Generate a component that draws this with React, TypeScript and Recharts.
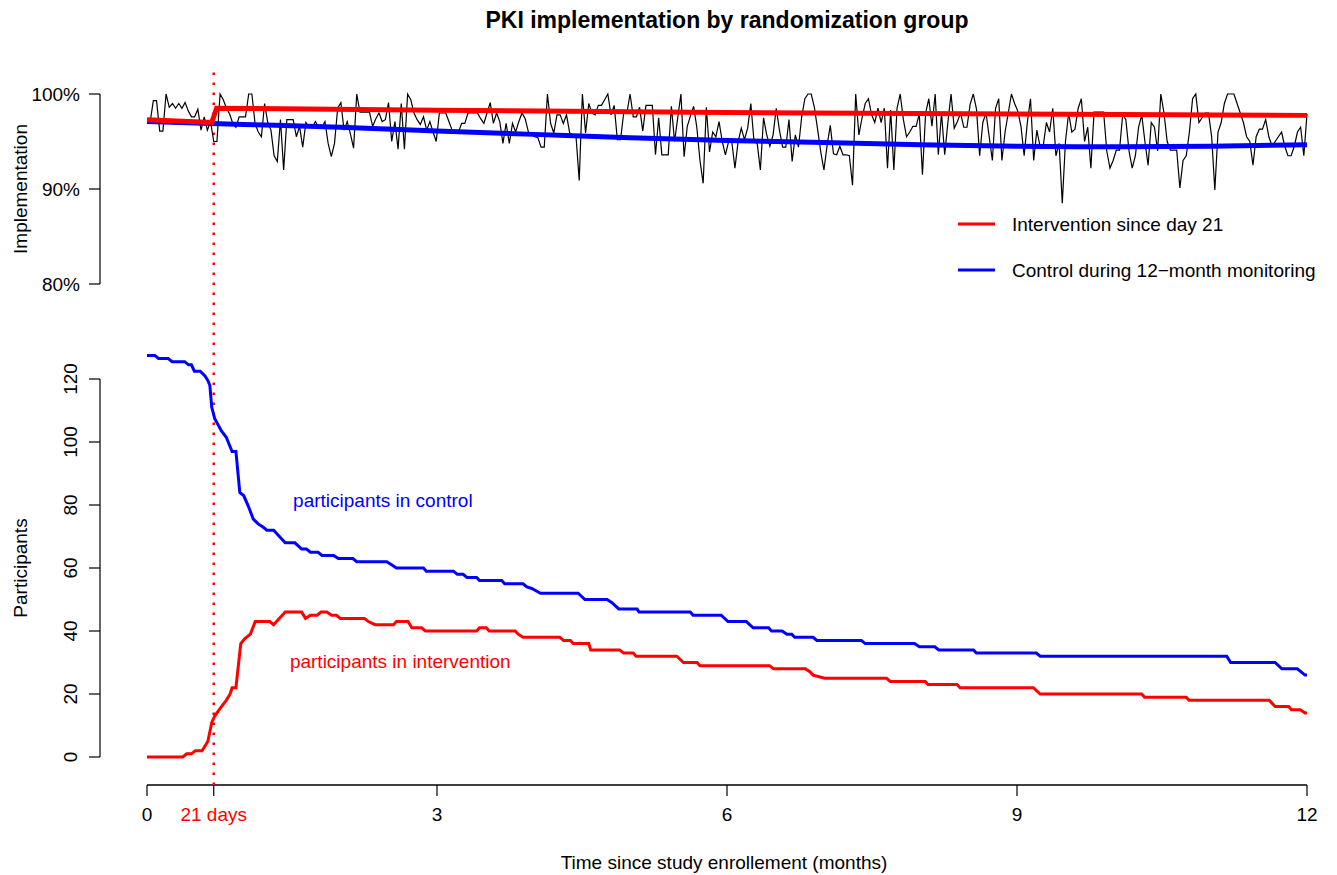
import React from 'react';
import { LineChart, Line, XAxis, YAxis, ReferenceLine, ReferenceDot } from 'recharts';

// ---------------- data ----------------
const DAYS_PER_MONTH = 365 / 12;
const DAY21_MONTH = 21 / DAYS_PER_MONTH;

// daily PKI implementation (%), day 0 .. 365
const implementationDaily: number[] = [
  97.1, 97.1, 99.3, 99.3, 96.1, 96.1, 100, 98.6, 99.0, 98.5,
  99.0, 98.5, 99.1, 98.2, 97.6, 97.6, 98.4, 96.2, 97.6, 96.2,
  97.1, 95.0, 95.0, 100, 99.4, 98.5, 97.9, 96.9, 96.5, 97.6,
  97.6, 97.6, 100, 100, 96.9, 96.0, 95.5, 99.0, 97.0, 96.2,
  93.5, 92.9, 97.3, 92.0, 97.3, 97.3, 97.3, 95.5, 96.6, 94.4,
  97.0, 96.5, 96.5, 97.1, 96.5, 96.5, 97.1, 94.8,
  93.4, 94.8, 98.5, 99.1, 96.2, 97.1, 95.8, 94.3, 100, 98.1,
  98.1, 98.1, 98.1, 96.6, 97.4, 98.0, 97.1, 97.3, 99.1, 95.0,
  97.1, 94.2, 99.0, 94.2, 100, 99.4, 98.0, 97.3, 96.8, 97.6,
  96.2, 97.1, 96.0, 95.0, 98.0, 98.0, 98.0, 97.1, 96.2, 96.1,
  96.0, 96.9, 96.9, 98.0, 98.0, 98.0, 98.0, 97.4, 96.9, 98.0,
  99.1, 96.9, 98.0, 97.1, 94.8, 96.9, 94.8, 96.9, 96.0, 97.1,
  98.0, 97.4, 96.0, 95.7, 95.5, 95.4, 94.4, 94.4, 100, 96.9,
  95.9, 97.8, 97.8, 96.9, 97.8, 95.9, 95.7, 95.5, 90.9, 100,
  95.9, 99.0, 98.0, 97.8, 98.8, 98.8, 99.4, 100, 97.8, 98.8,
  95.2, 95.2, 98.0, 98.0, 100, 97.6, 97.6, 98.6, 96.1, 98.8,
  98.8, 98.8, 93.6, 97.5, 93.6, 93.6, 93.6, 98.7, 95.0, 97.5,
  100, 93.4, 96.6, 97.7, 98.7, 96.5, 93.0, 90.6, 98.6, 93.9,
  96.0, 95.5, 97.1, 95.0, 93.6, 95.0, 95.0, 92.2, 95.0, 96.4,
  95.2, 96.4, 99.0, 95.0, 94.8, 92.0, 97.5, 95.7, 94.5, 95.7,
  98.5, 96.2, 94.4, 94.4, 97.3, 92.9, 95.7, 94.4, 97.6, 99.5,
  100, 100, 98.6, 96.3, 93.9, 92.0, 94.6, 96.7, 93.7, 93.6,
  94.5, 93.6, 93.6, 93.5, 90.4, 100, 95.7, 97.5, 99.0, 99.5,
  97.8, 97.0, 98.5, 97.0, 98.5, 92.2, 98.3, 92.0, 98.5, 100,
  97.3, 95.5, 96.0, 96.6, 96.6, 97.9, 91.5, 98.0, 99.5, 96.6,
  100, 93.6, 98.0, 93.6, 97.0, 100, 96.4, 97.1, 98.0, 96.5,
  96.5, 98.9, 100, 98.4, 93.5, 97.0, 98.0, 95.5, 93.0, 98.5,
  99.5, 93.0, 96.0, 98.0, 100, 99.0, 98.2, 96.6, 93.5, 97.0,
  99.5, 93.0, 96.2, 94.5, 94.5, 97.0, 96.0, 98.5, 93.5, 94.8,
  88.5, 95.0, 98.0, 96.0, 96.3, 98.5, 99.5, 95.0, 96.5,
  92.2, 98.1, 98.1, 98.1, 98.1, 94.0, 92.2, 93.0, 94.1, 94.1,
  97.8, 97.3, 94.0, 92.2, 93.5, 96.5, 97.8, 95.0, 92.5, 97.0,
  96.5, 94.0, 100, 98.0, 95.0, 94.1, 94.1, 94.1, 90.1, 93.0,
  93.5, 96.0, 99.5, 100, 97.0, 97.5, 98.0, 98.0, 95.5, 89.9,
  96.0, 97.0, 99.0, 100, 100, 100, 99.0, 98.0, 97.0, 95.5,
  95.0, 92.5, 95.5, 96.3, 96.3, 97.3, 95.5, 94.5, 95.0, 95.5,
  96.0, 94.5, 93.5, 93.5, 94.5, 96.0, 96.5, 93.5, 97.9,
];

// smoothed implementation trends: [month, %]
const interventionTrend: [number, number][] = [
  [0, 97.3], [0.67, 97.0], [0.72, 98.5], [3, 98.3], [6, 98.05], [9, 97.9], [12, 97.75],
];
const controlTrend: [number, number][] = [
  [0, 97.1], [1, 96.8], [2, 96.5], [3, 96.1], [4, 95.75], [5, 95.4], [6, 95.1],
  [7, 94.9], [8, 94.65], [9, 94.5], [10, 94.45], [11, 94.5], [12, 94.65],
];

// participants: [month, count]
const controlParticipants: [number, number][] = [
  [0, 127.5], [0.08, 127.5], [0.12, 126.5], [0.22, 126.5], [0.26, 125.5], [0.39, 125.5], [0.43, 124.5],
  [0.46, 124.5], [0.49, 122.5], [0.55, 122.5], [0.6, 121], [0.63, 119.5], [0.65, 118], [0.67, 111],
  [0.7, 107.5], [0.77, 103.5], [0.82, 101.5], [0.86, 98.5], [0.88, 97], [0.92, 97], [0.96, 84],
  [1.0, 83], [1.05, 79.5], [1.1, 75.5], [1.15, 74], [1.2, 73], [1.24, 72], [1.31, 72],
  [1.43, 68], [1.53, 68], [1.6, 66], [1.65, 66], [1.69, 65], [1.77, 65], [1.81, 64],
  [1.93, 64], [1.98, 63], [2.13, 63], [2.17, 62], [2.48, 62], [2.53, 61], [2.58, 60],
  [2.86, 60], [2.89, 59], [3.17, 59], [3.21, 58], [3.27, 58], [3.31, 57], [3.41, 57],
  [3.44, 56], [3.67, 56], [3.7, 55], [3.89, 55], [3.93, 54], [3.98, 53.5], [4.01, 53],
  [4.07, 52], [4.46, 52], [4.53, 50], [4.76, 50], [4.81, 49], [4.88, 47], [5.07, 47],
  [5.09, 46], [5.62, 46], [5.65, 45], [5.94, 45], [6.01, 43], [6.2, 43], [6.27, 41],
  [6.43, 41], [6.46, 40], [6.57, 40], [6.62, 39], [6.67, 39], [6.7, 38], [6.89, 38],
  [6.93, 37], [7.39, 37], [7.43, 36], [7.94, 36], [7.99, 35], [8.15, 35], [8.19, 34],
  [8.55, 34], [8.58, 33], [9.2, 33], [9.24, 32], [11.17, 32], [11.21, 30], [11.67, 30],
  [11.74, 28], [11.9, 28], [11.98, 26], [12, 26],
];
const interventionParticipants: [number, number][] = [
  [0, 0], [0.37, 0], [0.41, 1], [0.46, 1], [0.5, 2], [0.57, 2], [0.63, 5], [0.67, 11],
  [0.7, 13], [0.77, 16], [0.82, 18], [0.86, 20], [0.88, 22], [0.92, 22], [0.97, 36],
  [1.01, 37.5], [1.07, 39], [1.12, 43], [1.27, 43], [1.31, 42], [1.34, 43], [1.43, 46],
  [1.6, 46], [1.64, 44], [1.69, 45], [1.76, 45], [1.8, 46], [1.86, 46], [1.91, 45],
  [1.96, 45], [2.0, 44], [2.25, 44], [2.29, 43], [2.36, 42], [2.55, 42], [2.58, 43],
  [2.7, 43], [2.74, 41], [2.84, 41], [2.88, 40], [3.41, 40], [3.44, 41], [3.51, 41],
  [3.54, 40], [3.81, 40], [3.84, 39], [3.89, 38], [4.27, 38], [4.31, 37], [4.38, 37],
  [4.41, 36], [4.57, 36], [4.59, 34], [4.89, 34], [4.93, 33], [5.03, 33], [5.06, 32],
  [5.48, 32], [5.55, 30], [5.69, 30], [5.72, 29], [6.44, 29], [6.48, 28], [6.81, 28],
  [6.86, 27], [6.89, 26], [7.01, 25], [7.65, 25], [7.69, 24], [8.05, 24], [8.08, 23],
  [8.38, 23], [8.41, 22], [9.17, 22], [9.24, 20], [10.29, 20], [10.32, 19], [10.75, 19],
  [10.78, 18], [11.61, 18], [11.67, 16], [11.81, 16], [11.84, 15], [11.93, 15], [11.98, 14],
  [12, 14],
];

const xTickValues = [0, DAY21_MONTH, 3, 6, 9, 12];
const xTickLabels = ['0', '21 days', '3', '6', '9', '12'];
const implementationTicks = [80, 90, 100];
const participantTicks = [0, 20, 40, 60, 80, 100, 120];

const legendLabels = ['Intervention since day 21', 'Control during 12\u2212month monitoring'];

// ---------------- layout / style ----------------
const FONT = '"Liberation Sans", Arial, Helvetica, sans-serif';
const RED = '#FF0000';
const BLUE = '#0000FF';
const W = 1337;
const H = 875;
const PLOT_LEFT = 100;
const PLOT_RIGHT = 1330;
const X0_PX = 147;
const X12_PX = 1307;
const PX_PER_MONTH = (X12_PX - X0_PX) / 12;
const X_DOMAIN: [number, number] = [
  (PLOT_LEFT - X0_PX) / PX_PER_MONTH,
  (PLOT_RIGHT - X0_PX) / PX_PER_MONTH,
];
const TOP_H = 300;
const TOP_Y100 = 94;
const TOP_Y80 = 284;
const BOT_TOP = 72;
const BOT_BOTTOM = 785;
const Y0_PX = 757;
const Y120_PX = 379;
const PX_PER_COUNT = (Y0_PX - Y120_PX) / 120;
const PART_DOMAIN: [number, number] = [
  (Y0_PX - BOT_BOTTOM) / PX_PER_COUNT,
  (Y0_PX - BOT_TOP) / PX_PER_COUNT,
];

const toXY = (pts: [number, number][]) => pts.map(([x, y]) => ({ x, y }));
const implData = implementationDaily.map((v, d) => ({ x: d / DAYS_PER_MONTH, y: v }));

const XTick = (props: any) => {
  const { x, y, payload, index } = props;
  const i = xTickValues.indexOf(payload.value);
  const idx = i >= 0 ? i : index;
  const isDay21 = idx === 1;
  return (
    <text x={x} y={y} dy="0.71em" textAnchor="middle" fontSize={19} fontFamily={FONT}
      fill={isDay21 ? RED : '#000'}>
      {xTickLabels[idx]}
    </text>
  );
};

const RotTick = (props: any) => {
  const { x, y, payload } = props;
  return (
    <text x={x} y={y} transform={`rotate(-90 ${x} ${y})`} textAnchor="middle" fontSize={19}
      fontFamily={FONT} fill="#000">
      {payload.value}
    </text>
  );
};

export default function App() {
  return (
    <div style={{ position: 'absolute', left: 0, top: 0, width: W, height: H, background: '#fff' }}>
      {/* bottom panel: participants + shared x axis */}
      <div style={{ position: 'absolute', left: 0, top: 0 }}>
        <LineChart width={W} height={H} margin={{ top: BOT_TOP, right: W - PLOT_RIGHT, bottom: 0, left: 0 }}>
          <XAxis type="number" dataKey="x" domain={X_DOMAIN} allowDataOverflow ticks={xTickValues}
            interval={0} height={H - BOT_BOTTOM} tickSize={11} tickMargin={12} axisLine={false}
            tickLine={{ stroke: '#000', strokeWidth: 1.2 }} tick={XTick} />
          <YAxis type="number" dataKey="y" domain={PART_DOMAIN} allowDataOverflow ticks={participantTicks}
            interval={0} width={PLOT_LEFT} tickSize={11} tickMargin={12} axisLine={false}
            tickLine={{ stroke: '#000', strokeWidth: 1.2 }} tick={RotTick} />
          <ReferenceLine segment={[{ x: 0, y: PART_DOMAIN[0] }, { x: 12, y: PART_DOMAIN[0] }]}
            stroke="#000" strokeWidth={1.3} />
          <ReferenceLine segment={[{ x: X_DOMAIN[0], y: 0 }, { x: X_DOMAIN[0], y: 120 }]}
            stroke="#000" strokeWidth={1.2} />
          <ReferenceLine x={DAY21_MONTH} stroke={RED} strokeWidth={2.5} strokeDasharray="2.5 7.5" />
          <Line data={toXY(controlParticipants)} dataKey="y" type="linear" stroke={BLUE} strokeWidth={3}
            dot={false} activeDot={false} isAnimationActive={false} />
          <Line data={toXY(interventionParticipants)} dataKey="y" type="linear" stroke={RED} strokeWidth={3}
            dot={false} activeDot={false} isAnimationActive={false} />
          <ReferenceDot x={2.44} y={81.6} r={0} fill="none" stroke="none"
            label={{ value: 'participants in control', fill: BLUE, fontSize: 19, fontFamily: FONT }} />
          <ReferenceDot x={2.62} y={30.5} r={0} fill="none" stroke="none"
            label={{ value: 'participants in intervention', fill: RED, fontSize: 19, fontFamily: FONT }} />
        </LineChart>
      </div>

      {/* top panel: implementation */}
      <div style={{ position: 'absolute', left: 0, top: 0 }}>
        <LineChart width={W} height={TOP_H}
          margin={{ top: TOP_Y100, right: W - PLOT_RIGHT, bottom: TOP_H - TOP_Y80, left: 0 }}>
          <XAxis type="number" dataKey="x" domain={X_DOMAIN} allowDataOverflow hide />
          <YAxis type="number" dataKey="y" domain={[80, 100]} ticks={implementationTicks} interval={0}
            width={PLOT_LEFT} tickSize={11} tickMargin={9}
            axisLine={{ stroke: '#000', strokeWidth: 1.2 }} tickLine={{ stroke: '#000', strokeWidth: 1.2 }}
            tick={{ fontSize: 19, fill: '#000', fontFamily: FONT }}
            tickFormatter={(v: number) => `${v}%`} />
          <Line data={implData} dataKey="y" type="linear" stroke="#000" strokeWidth={1.2}
            dot={false} activeDot={false} isAnimationActive={false} />
          <Line data={toXY(controlTrend)} dataKey="y" type="monotone" stroke={BLUE} strokeWidth={5}
            dot={false} activeDot={false} isAnimationActive={false} />
          <Line data={toXY(interventionTrend)} dataKey="y" type="linear" stroke={RED} strokeWidth={5}
            dot={false} activeDot={false} isAnimationActive={false} />
        </LineChart>
      </div>

      {/* titles and legend */}
      <svg width={W} height={H} style={{ position: 'absolute', left: 0, top: 0, pointerEvents: 'none' }}
        fontFamily={FONT}>
        <text x={727} y={28} textAnchor="middle" fontSize={23} fontWeight="bold" fill="#000">
          PKI implementation by randomization group
        </text>
        <text x={27} y={189} transform="rotate(-90 27 189)" textAnchor="middle" fontSize={19} fill="#000">
          Implementation
        </text>
        <text x={27} y={568} transform="rotate(-90 27 568)" textAnchor="middle" fontSize={19} fill="#000">
          Participants
        </text>
        <text x={724} y={869} textAnchor="middle" fontSize={19} fill="#000">
          Time since study enrollement (months)
        </text>
        <line x1={958} x2={995} y1={224} y2={224} stroke={RED} strokeWidth={3} />
        <text x={1012} y={231} fontSize={19} fill="#000">{legendLabels[0]}</text>
        <line x1={958} x2={995} y1={270} y2={270} stroke={BLUE} strokeWidth={3} />
        <text x={1012} y={277} fontSize={19} fill="#000">{legendLabels[1]}</text>
      </svg>
    </div>
  );
}
